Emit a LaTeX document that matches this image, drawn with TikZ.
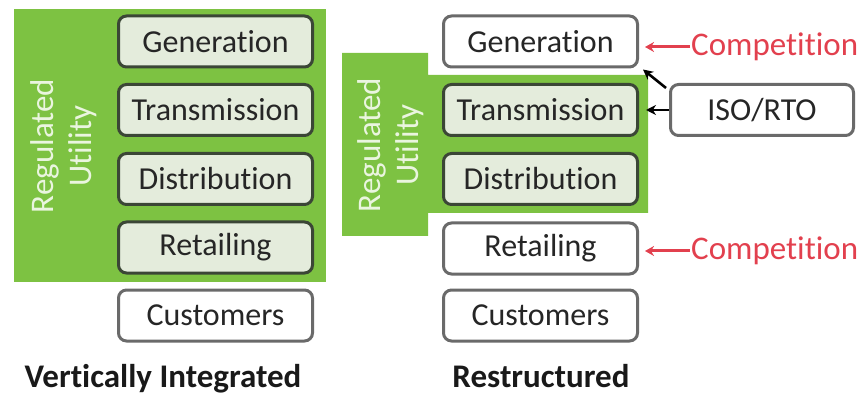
\documentclass[tikz,border=0pt]{standalone}
\usepackage{fontspec}
\setmainfont{Carlito}[Ligatures={NoCommon}]
\usetikzlibrary{arrows.meta}
\definecolor{utilgreen}{HTML}{7DC242}
\definecolor{boxfill}{HTML}{E4ECDC}
\definecolor{boxedge}{HTML}{3B4636}
\definecolor{plainedge}{HTML}{6A6A6A}
\definecolor{compred}{HTML}{E2404E}
\definecolor{utiltext}{HTML}{EAF5DF}
\begin{document}
\begin{tikzpicture}[x=1pt,y=-1pt,
  segbox/.style={draw=boxedge,fill=boxfill,line width=3pt,rounded corners=8pt,
    minimum width=194pt,minimum height=51pt,inner sep=0pt,
    font=\fontsize{32}{33}\selectfont,text=black!85},
  openbox/.style={segbox,draw=plainedge,fill=white},
  sidelabel/.style={rotate=90,align=center,text=utiltext,
    font=\fontsize{33}{38}\selectfont},
  comp/.style={text=compred,font=\fontsize{33}{34}\selectfont,inner sep=1pt},
  comparrow/.style={draw=compred,line width=3pt,-{Stealth[length=9pt,width=10pt]}},
  isoarrow/.style={draw=black,line width=2.6pt,-{Stealth[length=10pt,width=10pt]}},
  caption/.style={font=\bfseries\fontsize{33}{35}\selectfont,text=black!90,
    inner sep=0pt,anchor=base}]
\useasboundingbox (0,0) rectangle (864,395);

% ---- vertically integrated utility ----
\fill[utilgreen] (14,9) rectangle (326,282);
\node[sidelabel] (ruL) at (64,146) {Regulated\\Utility};
\node[segbox] (genL) at (215.5,41.5) {Generation};
\node[segbox] (traL) at (215.5,110) {Transmission};
\node[segbox] (disL) at (215.5,179) {Distribution};
\node[segbox] (retL) at (215.5,247.5) {Retailing};
\node[openbox] (cusL) at (215.5,315.5) {Customers};
\node[caption] (capL) at (163,387) {Vertically Integrated};

% ---- restructured industry ----
\fill[utilgreen] (342,53) -- (428,53) -- (428,75) -- (648,75) -- (648,213)
  -- (428,213) -- (428,236) -- (342,236) -- cycle;
\node[sidelabel] (ruR) at (391,145) {Regulated\\Utility};
\node[openbox] (genR) at (540.5,41.5) {Generation};
\node[segbox] (traR) at (540.5,110) {Transmission};
\node[segbox] (disR) at (540.5,179) {Distribution};
\node[openbox] (retR) at (540.5,248.5) {Retailing};
\node[openbox] (cusR) at (540.5,315.5) {Customers};
\node[caption] (capR) at (541,387) {Restructured};

\node[openbox,minimum width=183pt] (iso) at (762,110) {ISO/RTO};
\node[comp,anchor=west] (comp1) at (690,47) {Competition};
\node[comp,anchor=west] (comp2) at (690,251) {Competition};

\draw[comparrow] (comp1.west) -- ([xshift=6pt]genR.east |- comp1.west);
\draw[comparrow] (comp2.west) -- ([xshift=6pt]retR.east |- comp2.west);
\draw[isoarrow] (iso.west) -- ([xshift=7pt]traR.east);
\draw[isoarrow] ([xshift=-3pt,yshift=-5pt]iso.north west) -- ([xshift=4pt,yshift=-1pt]genR.south east);
\end{tikzpicture}
\end{document}
